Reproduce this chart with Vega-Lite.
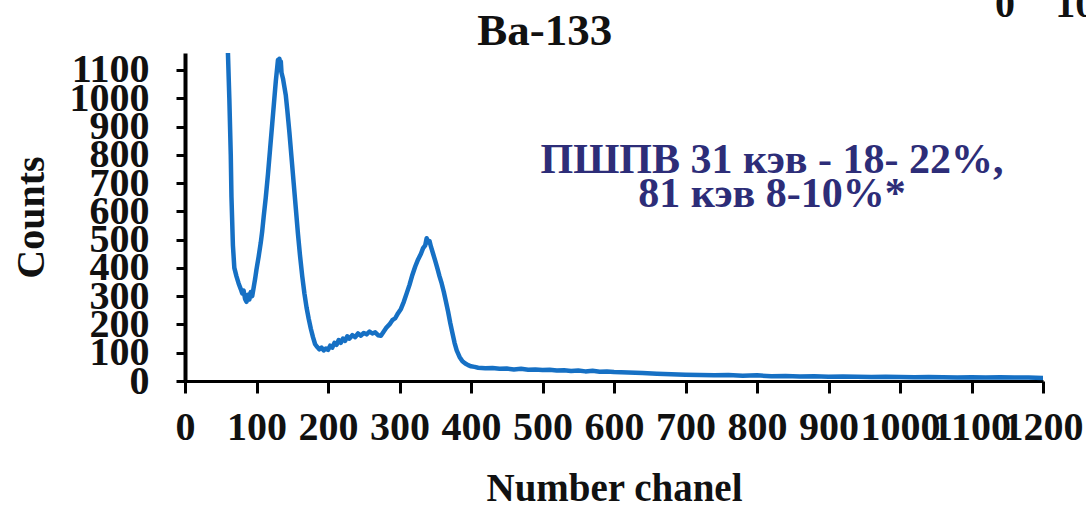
{
  "$schema": "https://vega.github.io/schema/vega-lite/v6.json",
  "width": 858,
  "height": 328,
  "autosize": "none",
  "padding": {"left": 185, "top": 53, "right": 43, "bottom": 138},
  "background": "white",
  "config": {
    "view": {"stroke": null},
    "font": "Liberation Serif",
    "axis": {
      "grid": false,
      "format": "d",
      "domainColor": "#000000",
      "tickColor": "#000000", "tickWidth": 3,
      "labelFont": "Liberation Serif", "labelFontSize": 40, "labelFontWeight": "bold",
      "labelColor": "#111111", "labelOverlap": false, "labelFlush": false,
      "titleFont": "Liberation Serif", "titleFontWeight": "bold", "titleColor": "#111111"
    },
    "axisX": {"domainWidth": 3, "tickSize": 12, "labelPadding": 14, "titleFontSize": 39, "titlePadding": 22},
    "axisY": {"domainWidth": 4, "tickSize": 9, "labelPadding": 27, "titleFontSize": 40, "titlePadding": 18}
  },
  "data": {
    "values": [
      {"ch": 60, "v": 1165}, {"ch": 62, "v": 1000}, {"ch": 64, "v": 800}, {"ch": 65, "v": 650},
      {"ch": 67, "v": 480}, {"ch": 69, "v": 400}, {"ch": 72, "v": 370}, {"ch": 75, "v": 345},
      {"ch": 78, "v": 325}, {"ch": 80, "v": 310}, {"ch": 82, "v": 320}, {"ch": 84, "v": 290},
      {"ch": 86, "v": 280}, {"ch": 88, "v": 305}, {"ch": 90, "v": 288}, {"ch": 92, "v": 315},
      {"ch": 94, "v": 300}, {"ch": 96, "v": 330}, {"ch": 98, "v": 360}, {"ch": 100, "v": 395},
      {"ch": 103, "v": 440}, {"ch": 106, "v": 490}, {"ch": 108, "v": 530}, {"ch": 110, "v": 580},
      {"ch": 113, "v": 650}, {"ch": 116, "v": 730}, {"ch": 119, "v": 820}, {"ch": 122, "v": 910},
      {"ch": 125, "v": 1000}, {"ch": 127, "v": 1060}, {"ch": 129, "v": 1110}, {"ch": 130, "v": 1135},
      {"ch": 131, "v": 1100}, {"ch": 132, "v": 1140}, {"ch": 133, "v": 1120}, {"ch": 134, "v": 1130},
      {"ch": 135, "v": 1090}, {"ch": 137, "v": 1070}, {"ch": 139, "v": 1040}, {"ch": 141, "v": 1010},
      {"ch": 143, "v": 960}, {"ch": 146, "v": 880}, {"ch": 149, "v": 790}, {"ch": 152, "v": 700},
      {"ch": 155, "v": 610}, {"ch": 158, "v": 520}, {"ch": 161, "v": 440}, {"ch": 164, "v": 370},
      {"ch": 167, "v": 310}, {"ch": 170, "v": 260}, {"ch": 173, "v": 220}, {"ch": 176, "v": 185},
      {"ch": 179, "v": 155}, {"ch": 182, "v": 130}, {"ch": 185, "v": 120}, {"ch": 188, "v": 112},
      {"ch": 191, "v": 118}, {"ch": 194, "v": 108}, {"ch": 197, "v": 115}, {"ch": 200, "v": 110},
      {"ch": 203, "v": 125}, {"ch": 206, "v": 118}, {"ch": 209, "v": 135}, {"ch": 212, "v": 128},
      {"ch": 215, "v": 145}, {"ch": 218, "v": 135}, {"ch": 221, "v": 150}, {"ch": 224, "v": 142},
      {"ch": 227, "v": 158}, {"ch": 230, "v": 150}, {"ch": 234, "v": 162}, {"ch": 238, "v": 155},
      {"ch": 242, "v": 168}, {"ch": 246, "v": 160}, {"ch": 250, "v": 170}, {"ch": 254, "v": 165},
      {"ch": 258, "v": 175}, {"ch": 262, "v": 168}, {"ch": 266, "v": 172}, {"ch": 270, "v": 162},
      {"ch": 274, "v": 160}, {"ch": 278, "v": 175}, {"ch": 282, "v": 190}, {"ch": 286, "v": 200},
      {"ch": 290, "v": 215}, {"ch": 294, "v": 222}, {"ch": 298, "v": 240}, {"ch": 302, "v": 255},
      {"ch": 306, "v": 280}, {"ch": 310, "v": 310}, {"ch": 314, "v": 340}, {"ch": 318, "v": 375},
      {"ch": 322, "v": 405}, {"ch": 326, "v": 430}, {"ch": 330, "v": 450}, {"ch": 333, "v": 470},
      {"ch": 336, "v": 480}, {"ch": 338, "v": 505}, {"ch": 340, "v": 490}, {"ch": 342, "v": 495},
      {"ch": 344, "v": 475}, {"ch": 347, "v": 450}, {"ch": 350, "v": 425}, {"ch": 353, "v": 398},
      {"ch": 356, "v": 370}, {"ch": 359, "v": 345}, {"ch": 362, "v": 315}, {"ch": 365, "v": 280},
      {"ch": 368, "v": 245}, {"ch": 371, "v": 205}, {"ch": 374, "v": 170}, {"ch": 377, "v": 135},
      {"ch": 380, "v": 108}, {"ch": 384, "v": 85}, {"ch": 388, "v": 70}, {"ch": 392, "v": 62},
      {"ch": 396, "v": 56}, {"ch": 400, "v": 52}, {"ch": 405, "v": 50}, {"ch": 410, "v": 47},
      {"ch": 420, "v": 45}, {"ch": 430, "v": 46}, {"ch": 440, "v": 43}, {"ch": 450, "v": 44},
      {"ch": 460, "v": 41}, {"ch": 470, "v": 43}, {"ch": 480, "v": 40}, {"ch": 490, "v": 41},
      {"ch": 500, "v": 39}, {"ch": 510, "v": 40}, {"ch": 520, "v": 37}, {"ch": 530, "v": 38},
      {"ch": 540, "v": 35}, {"ch": 550, "v": 37}, {"ch": 560, "v": 34}, {"ch": 570, "v": 36},
      {"ch": 580, "v": 33}, {"ch": 590, "v": 34}, {"ch": 600, "v": 32}, {"ch": 620, "v": 30},
      {"ch": 640, "v": 28}, {"ch": 660, "v": 26}, {"ch": 680, "v": 24}, {"ch": 700, "v": 22},
      {"ch": 720, "v": 21}, {"ch": 740, "v": 20}, {"ch": 760, "v": 21}, {"ch": 780, "v": 19},
      {"ch": 800, "v": 20}, {"ch": 820, "v": 17}, {"ch": 840, "v": 18}, {"ch": 860, "v": 16},
      {"ch": 880, "v": 17}, {"ch": 900, "v": 15}, {"ch": 920, "v": 16}, {"ch": 940, "v": 15},
      {"ch": 960, "v": 14}, {"ch": 980, "v": 15}, {"ch": 1000, "v": 14}, {"ch": 1020, "v": 13},
      {"ch": 1040, "v": 14}, {"ch": 1060, "v": 13}, {"ch": 1080, "v": 12}, {"ch": 1100, "v": 13},
      {"ch": 1120, "v": 12}, {"ch": 1140, "v": 13}, {"ch": 1160, "v": 12}, {"ch": 1180, "v": 12},
      {"ch": 1200, "v": 11}, {"ch": 1205, "v": 12}
    ]
  },
  "layer": [
    {
      "mark": {"type": "line", "color": "#1670c4", "strokeWidth": 4.5, "clip": true, "strokeJoin": "round"},
      "encoding": {
        "x": {
          "field": "ch", "type": "quantitative",
          "scale": {"domain": [0, 1200], "nice": false},
          "axis": {"title": "Number chanel", "values": [0, 100, 200, 300, 400, 500, 600, 700, 800, 900, 1000, 1100, 1200]}
        },
        "y": {
          "field": "v", "type": "quantitative",
          "scale": {"domain": [0, 1160], "nice": false},
          "axis": {"title": "Counts", "values": [0, 100, 200, 300, 400, 500, 600, 700, 800, 900, 1000, 1100]}
        }
      }
    },
    {
      "data": {"values": [{}]},
      "mark": {"type": "text", "text": ["ПШПВ 31 кэв - 18- 22%,", "81 кэв 8-10%*"], "font": "Liberation Serif", "fontSize": 42, "fontWeight": "bold", "color": "#2d2d78", "align": "center", "baseline": "middle", "lineHeight": 34},
      "encoding": {
        "x": {"datum": 821, "type": "quantitative", "axis": {"title": "Number chanel", "values": [0, 100, 200, 300, 400, 500, 600, 700, 800, 900, 1000, 1100, 1200]}},
        "y": {"datum": 782, "type": "quantitative", "axis": {"title": "Counts", "values": [0, 100, 200, 300, 400, 500, 600, 700, 800, 900, 1000, 1100]}}
      }
    },
    {
      "data": {"values": [{}]},
      "mark": {"type": "text", "text": "Ba-133", "font": "Liberation Serif", "fontSize": 45, "fontWeight": "bold", "color": "#111111", "align": "center", "baseline": "alphabetic", "clip": false},
      "encoding": {
        "x": {"datum": 503, "type": "quantitative", "axis": {"title": "Number chanel", "values": [0, 100, 200, 300, 400, 500, 600, 700, 800, 900, 1000, 1100, 1200]}},
        "y": {"datum": 1188, "type": "quantitative", "axis": {"title": "Counts", "values": [0, 100, 200, 300, 400, 500, 600, 700, 800, 900, 1000, 1100]}}
      }
    },
    {
      "data": {"values": [{}]},
      "mark": {"type": "text", "text": "0", "font": "Liberation Serif", "fontSize": 40, "fontWeight": "bold", "color": "#111111", "align": "left", "baseline": "alphabetic", "clip": false},
      "encoding": {
        "x": {"datum": 1133, "type": "quantitative", "axis": {"title": "Number chanel", "values": [0, 100, 200, 300, 400, 500, 600, 700, 800, 900, 1000, 1100, 1200]}},
        "y": {"datum": 1287, "type": "quantitative", "axis": {"title": "Counts", "values": [0, 100, 200, 300, 400, 500, 600, 700, 800, 900, 1000, 1100]}}
      }
    },
    {
      "data": {"values": [{}]},
      "mark": {"type": "text", "text": "100", "font": "Liberation Serif", "fontSize": 40, "fontWeight": "bold", "color": "#111111", "align": "left", "baseline": "alphabetic", "clip": false},
      "encoding": {
        "x": {"datum": 1217, "type": "quantitative", "axis": {"title": "Number chanel", "values": [0, 100, 200, 300, 400, 500, 600, 700, 800, 900, 1000, 1100, 1200]}},
        "y": {"datum": 1287, "type": "quantitative", "axis": {"title": "Counts", "values": [0, 100, 200, 300, 400, 500, 600, 700, 800, 900, 1000, 1100]}}
      }
    }
  ]
}
